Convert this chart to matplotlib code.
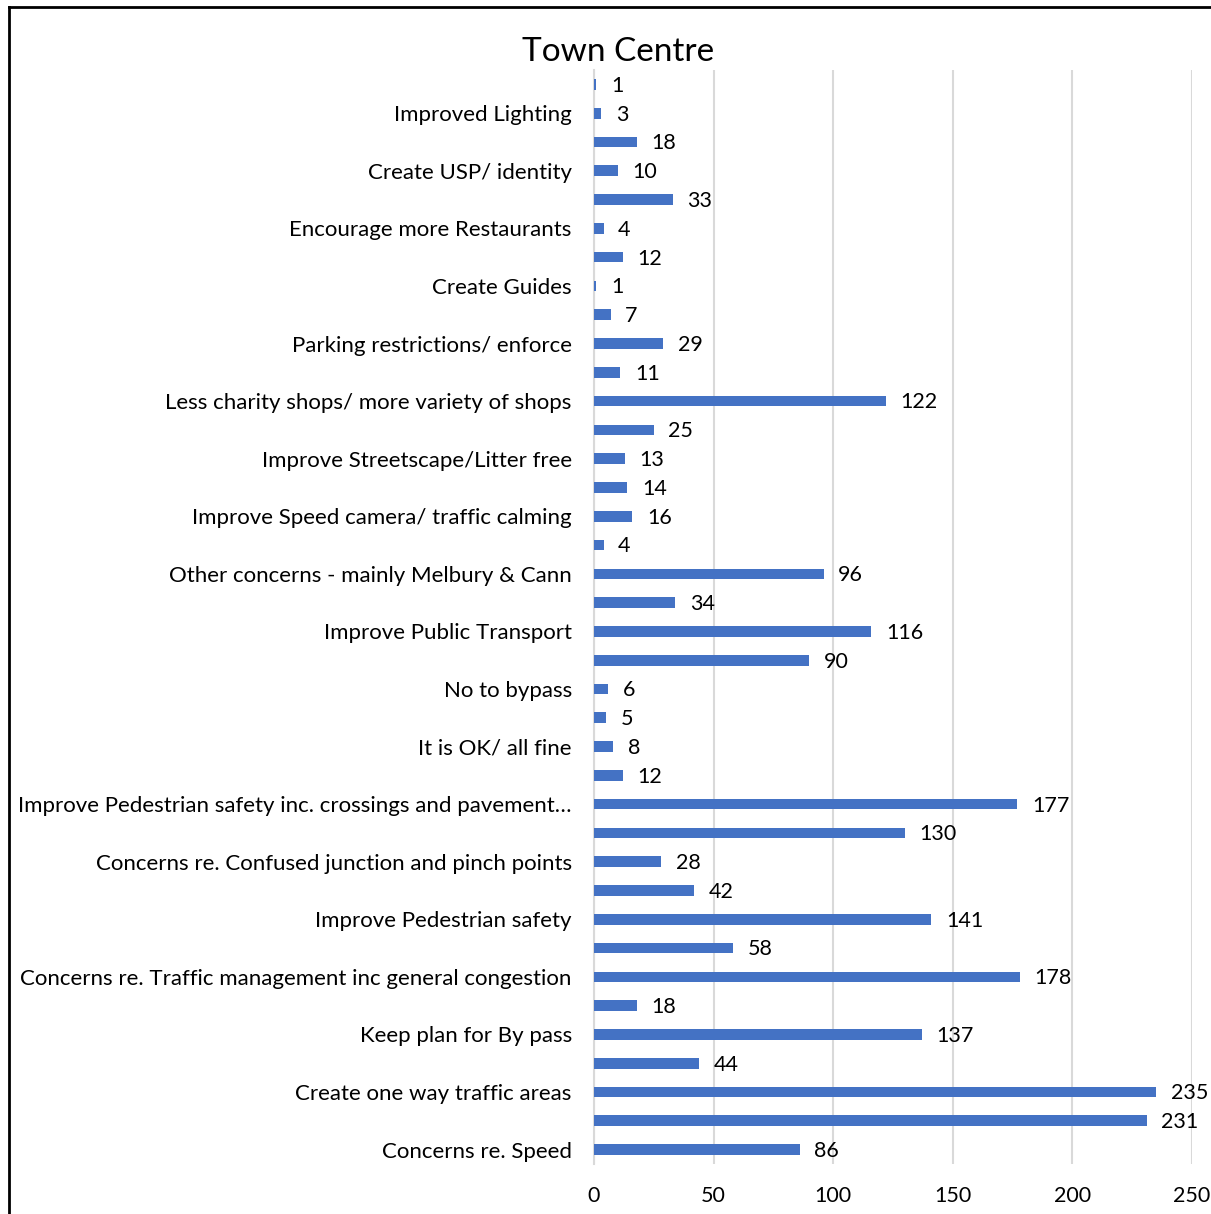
import matplotlib
matplotlib.use("Agg")
import matplotlib.pyplot as plt
from matplotlib.lines import Line2D

plt.rcParams["font.family"] = ["Lato", "DejaVu Sans"]

# categories listed bottom to top (Excel order); hidden labels left empty
labels = [
    "Concerns re. Speed", "",
    "Create one way traffic areas", "",
    "Keep plan for By pass", "",
    "Concerns re. Traffic management inc general congestion", "",
    "Improve Pedestrian safety", "",
    "Concerns re. Confused junction and pinch points", "",
    "Improve Pedestrian safety inc. crossings and pavement\u2026", "",
    "It is OK/ all fine", "",
    "No to bypass", "",
    "Improve Public Transport", "",
    "Other concerns - mainly Melbury & Cann", "",
    "Improve Speed camera/ traffic calming", "",
    "Improve Streetscape/Litter free", "",
    "Less charity shops/ more variety of shops", "",
    "Parking restrictions/ enforce", "",
    "Create Guides", "",
    "Encourage more Restaurants", "",
    "Create USP/ identity", "",
    "Improved Lighting", "",
]
values = [86, 231, 235, 44, 137, 18, 178, 58, 141, 42, 28, 130, 177, 12, 8, 5,
          6, 90, 116, 34, 96, 4, 16, 14, 13, 25, 122, 11, 29, 7, 1, 12, 4, 33,
          10, 18, 3, 1]
x_ticks = [0, 50, 100, 150, 200, 250]

fig = plt.figure(figsize=(12.11, 12.14), dpi=100)
ax = fig.add_axes([0.4905, 0.0412, 0.4938, 0.9011])

pos = list(range(len(values)))
ax.barh(pos, values, height=0.37, color="#4472C4", zorder=3)
for p, v in zip(pos, values):
    ax.annotate(str(v), (v, p), xytext=(10.5, -1), textcoords="offset points",
                va="center", ha="left", fontsize=15.5, color="#000000")

ax.set_ylim(-0.5, len(values) - 0.5)
ax.set_xlim(0, 250)
ax.set_yticks(pos)
ax.set_yticklabels(labels, fontsize=16)
ax.set_xticks(x_ticks)
ax.set_xticklabels([str(t) for t in x_ticks], fontsize=15.5)
ax.tick_params(axis="y", length=0, pad=16)
ax.tick_params(axis="x", length=0, pad=16)
ax.grid(axis="x", color="#D9D9D9", linewidth=1.5, zorder=0)
for s in ["top", "right", "bottom"]:
    ax.spines[s].set_visible(False)
ax.spines["left"].set_color("#D9D9D9")
ax.spines["left"].set_linewidth(1.5)

fig.text(0.51, 0.957, "Town Centre", ha="center", va="center", fontsize=24)

# outer chart frame (left and top edges visible)
fig.add_artist(Line2D([9 / 1211, 9 / 1211], [0, 1 - 7 / 1214], color="black", linewidth=2,
                      transform=fig.transFigure))
fig.add_artist(Line2D([9 / 1211, 1], [1 - 7 / 1214, 1 - 7 / 1214], color="black", linewidth=2,
                      transform=fig.transFigure))

fig.savefig("out.png", dpi=100)
